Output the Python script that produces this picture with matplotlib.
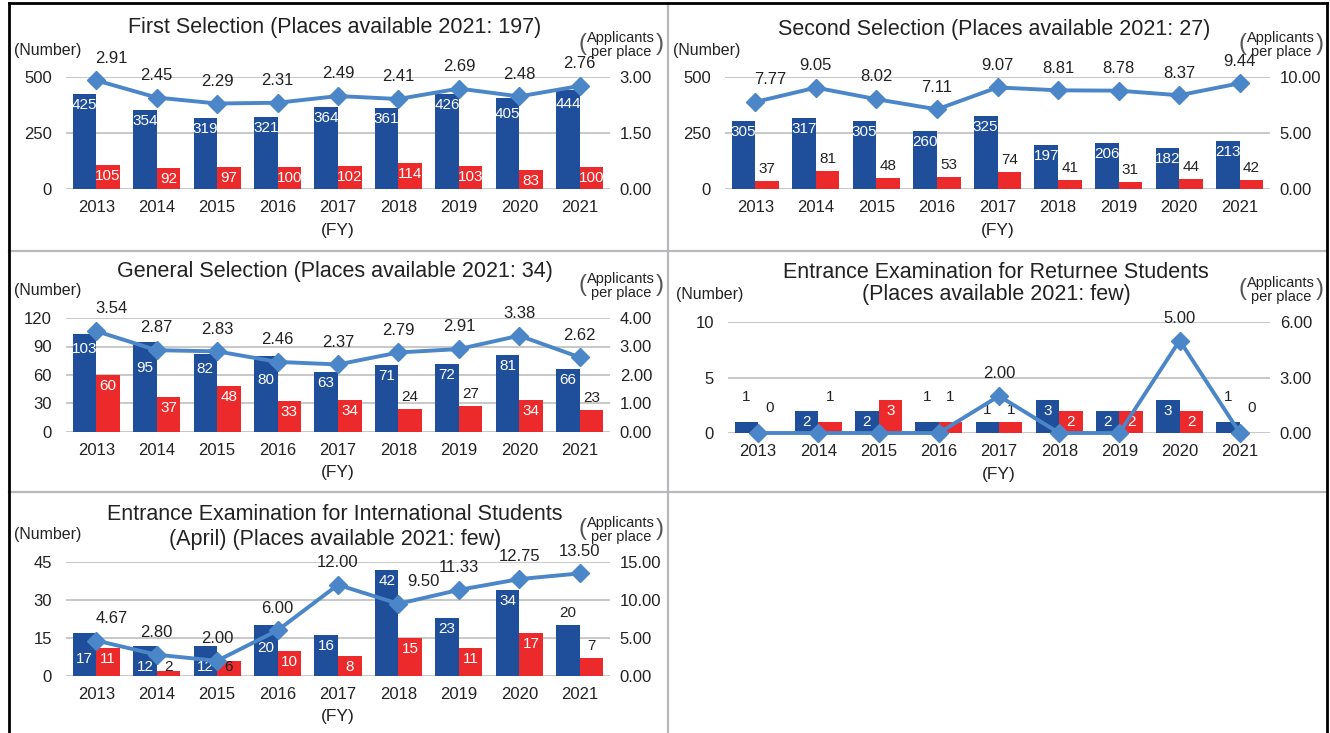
import numpy as np
import matplotlib
matplotlib.use("Agg")
import matplotlib.pyplot as plt
from matplotlib.lines import Line2D

# données (FY 2013-2021)
years = ["2013", "2014", "2015", "2016", "2017", "2018", "2019", "2020", "2021"]

first_blue = [425, 354, 319, 321, 364, 361, 426, 405, 444]
first_red = [105, 92, 97, 100, 102, 114, 103, 83, 100]
first_ratio = [2.91, 2.45, 2.29, 2.31, 2.49, 2.41, 2.69, 2.48, 2.76]

second_blue = [305, 317, 305, 260, 325, 197, 206, 182, 213]
second_red = [37, 81, 48, 53, 74, 41, 31, 44, 42]
second_ratio = [7.77, 9.05, 8.02, 7.11, 9.07, 8.81, 8.78, 8.37, 9.44]

general_blue = [103, 95, 82, 80, 63, 71, 72, 81, 66]
general_red = [60, 37, 48, 33, 34, 24, 27, 34, 23]
general_ratio = [3.54, 2.87, 2.83, 2.46, 2.37, 2.79, 2.91, 3.38, 2.62]

returnee_blue = [1, 2, 2, 1, 1, 3, 2, 3, 1]
returnee_red = [0, 1, 3, 1, 1, 2, 2, 2, 0]
returnee_ratio = [0, 0, 0, 0, 2.00, 0, 0, 5.00, 0]

intl_blue = [17, 12, 12, 20, 16, 42, 23, 34, 20]
intl_red = [11, 2, 6, 10, 8, 15, 11, 17, 7]
intl_ratio = [4.67, 2.80, 2.00, 6.00, 12.00, 9.50, 11.33, 12.75, 13.50]

BLUE = "#1F4E9A"
RED = "#EC2A2B"
LINE = "#4A86C8"
TXT = "#222222"

plt.rcParams["font.family"] = ["Liberation Sans", "DejaVu Sans"]

W, H = 1330, 733
fig = plt.figure(figsize=(13.3, 7.33), dpi=100)


def fx(x):
    return x / W


def fy(y):
    return 1 - y / H


def ligne(x0, y0, x1, y1, color, lw):
    fig.add_artist(Line2D([fx(x0), fx(x1)], [fy(y0), fy(y1)], color=color, lw=lw,
                          transform=fig.transFigure))


# cadre
ligne(668, 3, 668, 733, "#b8b8bc", 1.6)
ligne(9, 251, 1327, 251, "#b8b8bc", 1.6)
ligne(9, 492, 1327, 492, "#b8b8bc", 1.6)
ligne(9, 3, 9, 733, "black", 2)
ligne(9, 3, 1327, 3, "black", 2)
ligne(1327, 3, 1327, 733, "black", 2)


def panel(rect, title, title_y, blue, red, ratio, ymax, ystep, rmax, rstep,
          blue_up=(), red_up=(), lift_zero=False, avoid=True, shifts=None):
    l, t, r, b = rect
    hpx = b - t
    ax = fig.add_axes([fx(l), fy(b), fx(r) - fx(l), fy(t) - fy(b)])
    x = np.arange(len(years))
    w = 0.39
    ax.bar(x - w / 2, blue, w, color=BLUE, zorder=2)
    ax.bar(x + w / 2, red, w, color=RED, zorder=2)
    ax.set_xlim(-0.5, len(years) - 0.5)
    ax.set_ylim(0, ymax)
    ax.set_yticks(np.arange(0, ymax + ystep / 2, ystep))
    ax.set_xticks(x, years)
    ax.tick_params(length=0, labelsize=12, colors=TXT)
    ax.tick_params(axis="y", pad=10)
    ax.tick_params(axis="x", pad=8)
    for s in ax.spines.values():
        s.set_visible(False)
    ax.grid(axis="y", color="#c8c8c8", lw=1.4)
    ax.set_axisbelow(True)

    # étiquettes des barres (en pixels depuis le bas, on évite la courbe)
    for serie, dx, up in [(blue, -w / 2, blue_up), (red, w / 2, red_up)]:
        for i, v in enumerate(serie):
            top = v / ymax * hpx
            mk = ratio[i] / rmax * hpx
            if i in up:
                c = top + (25 if (lift_zero and ratio[i] == 0) else 12)
                col = TXT
            else:
                c = top - 11
                col = "white"
            if avoid and abs(c - mk) < 15:
                c = max(mk - 18, 9)
            ax.text(i + dx, c / hpx * ymax, str(v), ha="center", va="center",
                    fontsize=11, color=col, zorder=5)

    ax2 = ax.twinx()
    ax2.set_ylim(0, rmax)
    ax2.set_yticks(np.arange(0, rmax + rstep / 2, rstep))
    ax2.yaxis.set_major_formatter("{x:.2f}")
    ax2.tick_params(length=0, labelsize=12, colors=TXT, pad=7)
    for s in ax2.spines.values():
        s.set_visible(False)
    ax2.plot(x, ratio, color=LINE, lw=2.8, marker="D", ms=9.5, zorder=3, clip_on=False)
    shifts = shifts or {}
    for i, v in enumerate(ratio):
        if v > 0:
            ax2.annotate(f"{v:.2f}", (i, v), xytext=(shifts.get(i, 0), 16), textcoords="offset points",
                         ha="center", va="center", fontsize=12, color=TXT)

    # titres et unités
    cx = (l + r) / 2
    for ligne_titre, yy in zip(title, title_y):
        fig.text(fx(cx - 3), fy(yy), ligne_titre, ha="center", va="center", fontsize=15.5, color=TXT)
    fig.text(fx(l - 52), fy(t - 27), "(Number)", ha="left", va="center", fontsize=11.5, color=TXT)
    fig.text(fx(r + 11), fy(t - 32), "Applicants\nper place", ha="center", va="center",
             fontsize=10.5, color=TXT, linespacing=0.95)
    fig.text(fx(r - 28), fy(t - 33), "(", ha="center", va="center", fontsize=17, color="#555")
    fig.text(fx(r + 50), fy(t - 33), ")", ha="center", va="center", fontsize=17, color="#555")
    fig.text(fx(cx), fy(b + 41), "(FY)", ha="center", va="center", fontsize=12.5, color=TXT)
    return ax


panel((66, 77, 610, 189), ["First Selection (Places available 2021: 197)"], [28],
      first_blue, first_red, first_ratio, 500, 250, 3, 1.5, shifts={0: 11})

panel((725, 77, 1270, 189), ["Second Selection (Places available 2021: 27)"], [30],
      second_blue, second_red, second_ratio, 500, 250, 10, 5,
      red_up=range(9), shifts={0: 11})

panel((66, 318, 610, 432), ["General Selection (Places available 2021: 34)"], [272],
      general_blue, general_red, general_ratio, 120, 30, 4, 1,
      red_up=(5, 6, 8), shifts={0: 11})

panel((728, 322, 1270, 433), ["Entrance Examination for Returnee Students",
                              "(Places available 2021: few)"], [272, 295],
      returnee_blue, returnee_red, returnee_ratio, 10, 5, 6, 3,
      blue_up=(0, 3, 4, 8), red_up=(0, 1, 3, 4, 8), lift_zero=True, avoid=False)

panel((66, 562, 610, 676), ["Entrance Examination for International Students",
                            "(April) (Places available 2021: few)"], [515, 539],
      intl_blue, intl_red, intl_ratio, 45, 15, 15, 5,
      blue_up=(8,), red_up=(1, 2, 8), shifts={0: 11, 5: 18})

plt.savefig("out.png", dpi=100)
